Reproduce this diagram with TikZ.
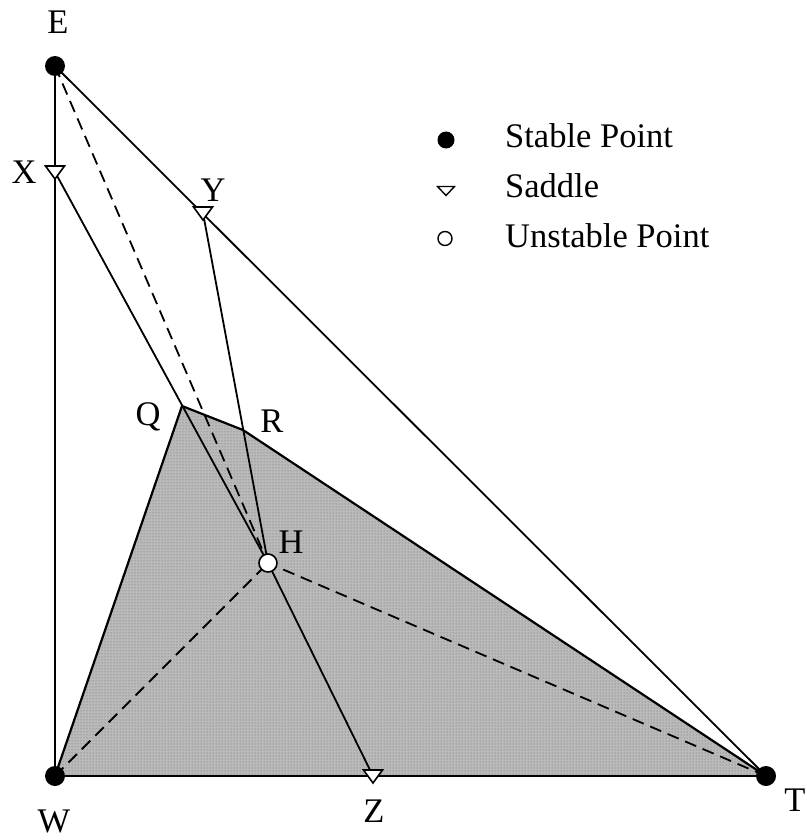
\documentclass[tikz,border=0pt]{standalone}
\usepackage{fontspec}
\setmainfont{Liberation Serif}
\usetikzlibrary{patterns}
\begin{document}
\begin{tikzpicture}[x=1pt,y=-1pt,
  lbl/.style={anchor=base,inner sep=0pt,font=\fontsize{34.5}{40}\selectfont},
  ln/.style={line width=1.8pt,line join=round},
  bd/.style={line width=2.2pt,line join=round},
  dsh/.style={line width=1.8pt,dash pattern=on 12pt off 7pt},
  stable/.style={circle,fill=black,inner sep=0pt,minimum size=20pt},
  unstable/.style={circle,draw=black,fill=white,line width=1.6pt,inner sep=0pt,minimum size=18pt},
  saddlemark/.pic={\draw[fill=white,line width=1.6pt,line join=miter] (-9.5,-6) -- (9.5,-6) -- (0,7) -- cycle;},
  saddlesmall/.pic={\draw[fill=white,line width=1.4pt] (-8.5,-4.5) -- (8.5,-4.5) -- (0,4.5) -- cycle;}
]
\useasboundingbox (0,0) rectangle (806,840);
% points
\coordinate (E) at (55,66);
\coordinate (W) at (55,776);
\coordinate (T) at (766,776);
\coordinate (X) at (55,172);
\coordinate (Y) at (203,213);
\coordinate (Z) at (373,776);
\coordinate (Q) at (182,406);
\coordinate (R) at (243,430);
\coordinate (H) at (268,563);
% shaded region
\fill[black!27] (W) -- (Q) -- (R) -- (T) -- cycle;
\fill[pattern=dots,pattern color=black!60] (W) -- (Q) -- (R) -- (T) -- cycle;
\draw[bd] (W) -- (Q) -- (R) -- (T);
% outer triangle
\draw[ln] (E) -- (W);
\draw[bd] (W) -- (T);
\draw[ln] (T) -- (E);
% separatrices
\draw[ln] (X) -- (H);
\draw[ln] (H) -- (Z);
\draw[ln] (Y) -- (H);
\draw[dsh] (E) -- (H);
\draw[dsh] (W) -- (H);
\draw[dsh] (T) -- (H);
% markers
\node[stable] (Em) at (E) {};
\node[stable] (Wm) at (W) {};
\node[stable] (Tm) at (T) {};
\node[unstable] (Hm) at (H) {};
\pic at (X) {saddlemark};
\pic at (Y) {saddlemark};
\pic at (Z) {saddlemark};
% labels
\node[lbl] (lE) at (58,34) {E};
\node[lbl] (lX) at (24,183) {X};
\node[lbl] (lY) at (213,201) {Y};
\node[lbl] (lQ) at (148,425) {Q};
\node[lbl] (lR) at (272,432) {R};
\node[lbl] (lH) at (291,553) {H};
\node[lbl] (lW) at (54,832) {W};
\node[lbl] (lZ) at (374,822) {Z};
\node[lbl] (lT) at (795,811) {T};
% legend
\node[circle,fill=black,inner sep=0pt,minimum size=17pt] (legS) at (446,140) {};
\pic at (446,191) {saddlesmall};
\node[circle,draw=black,fill=white,line width=1.4pt,inner sep=0pt,minimum size=14pt] (legU) at (445,238.5) {};
\node[lbl,anchor=base west] (tS) at (505,147) {Stable Point};
\node[lbl,anchor=base west] (tD) at (505,197) {Saddle};
\node[lbl,anchor=base west] (tU) at (505,247) {Unstable Point};
\end{tikzpicture}
\end{document}
